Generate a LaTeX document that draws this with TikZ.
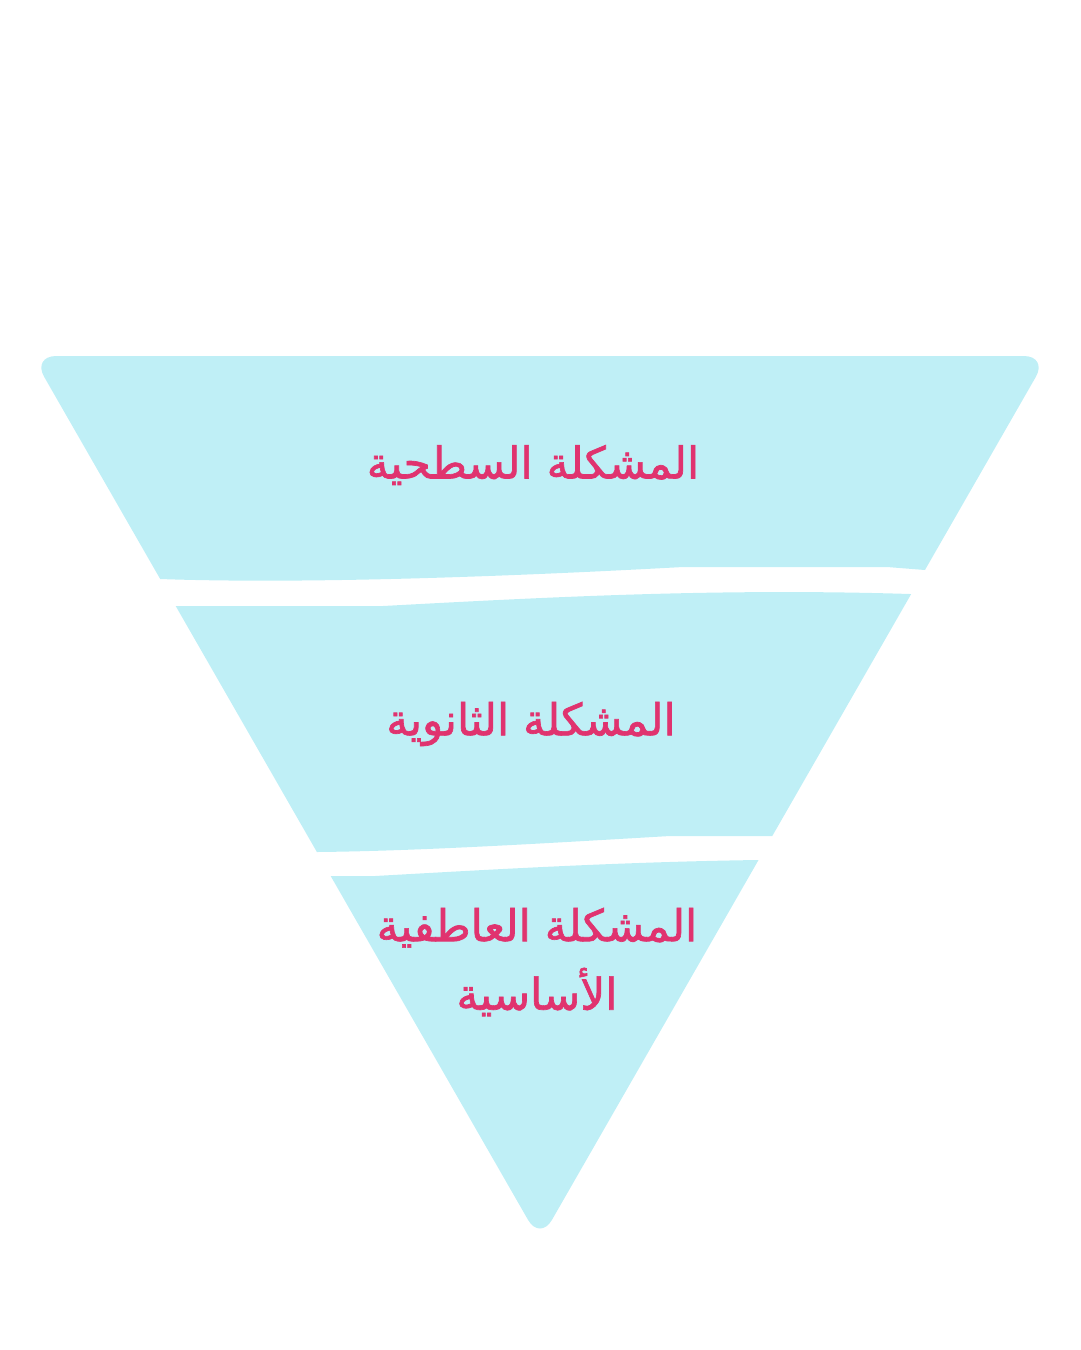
\documentclass[tikz,border=0pt]{standalone}
\usepackage{fontspec}
\newfontfamily\arabicfont[Script=Arabic, FakeBold=1.5]{DejaVu Sans}
\TeXXeTstate=1
\definecolor{bandblue}{HTML}{BFEFF6}
\definecolor{labelpink}{HTML}{E0336F}
\tikzset{band/.style={fill=bandblue}, level/.style={text=labelpink, font=\arabicfont\fontsize{25}{39}\selectfont, align=center}}

\begin{document}
\begin{tikzpicture}[x=0.02cm, y=-0.02cm]
  \useasboundingbox (0,0) rectangle (1080,1350);
  \begin{scope}
    \clip[rounded corners=0.48cm] (32.2,356) -- (1047.8,356) -- (540,1240.7) -- cycle;
    % top band
    \fill[band] (0,340) -- (1080,340) -- (1080,570) -- (925,570) -- (887,567) -- (683,567)
      .. controls (500,577) and (300,584) .. (160,579) -- (0,579) -- cycle;
    % middle band
    \fill[band] (0,606) -- (383,606) .. controls (550,597) and (720,588) .. (910,594) -- (1080,594)
      -- (1080,836) -- (670,836) .. controls (550,843) and (420,851) .. (317,852) -- (0,852) -- cycle;
    % bottom band
    \fill[band] (0,876) -- (375,876) .. controls (500,869) and (620,862) .. (758,860) -- (1080,860)
      -- (1080,1300) -- (0,1300) -- cycle;
  \end{scope}

  \node[level] (surface) at (533,465) {\beginR المشكلة السطحية\endR};
  \node[level] (secondary) at (531,724) {\beginR المشكلة الثانوية\endR};
  \node[level] (core) at (537,962) {\beginR المشكلة العاطفية\endR\\ \beginR الأساسية\endR};
\end{tikzpicture}
\end{document}
